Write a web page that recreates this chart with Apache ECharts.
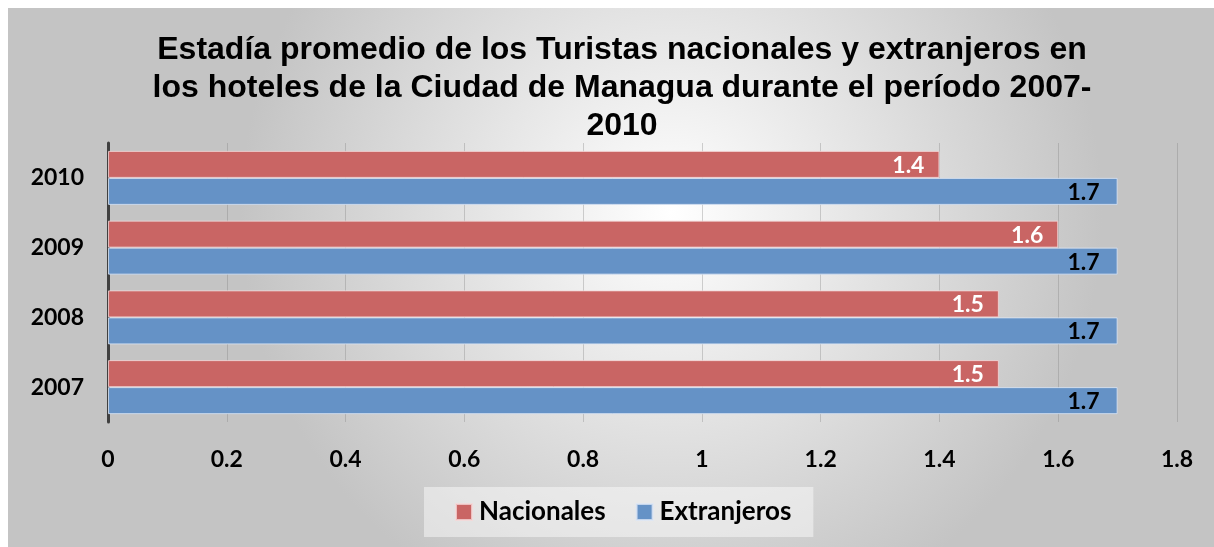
<!DOCTYPE html>
<html><head><meta charset="utf-8">
<script src="https://cdn.jsdelivr.net/npm/echarts@6/dist/echarts.min.js"></script>
<style>
html,body{margin:0;padding:0;background:#fff;}
#c{position:absolute;left:8px;top:8px;width:1206px;height:539px;}
</style></head><body>
<div id="c"></div>
<script>
const categories = ['2007','2008','2009','2010'];
const nacionales = [1.5, 1.5, 1.6, 1.4];
const extranjeros = [1.7, 1.7, 1.7, 1.7];
const xTicks = [0,0.2,0.4,0.6,0.8,1,1.2,1.4,1.6,1.8];
const titleText = 'Estadía promedio de los Turistas nacionales y extranjeros en\nlos hoteles de la Ciudad de Managua durante el período 2007-\n2010';

const chart = echarts.init(document.getElementById('c'));
const lbl = {fontFamily:'Lato', fontWeight:'bold', fontSize:23};
chart.setOption({
  backgroundColor:{type:'radial',x:0.55,y:0.38,r:0.8,colorStops:[{offset:0,color:'#ffffff'},{offset:1,color:'#c4c4c4'}]},
  animation:false,
  title:{text:titleText,left:609,textAlign:'center',top:18,
    textStyle:{fontFamily:'Liberation Sans',fontWeight:'bold',fontSize:32,lineHeight:38,color:'#000'}},
  grid:{left:100,right:37,top:135,bottom:125},
  legend:{data:['Nacionales','Extranjeros'],bottom:10,left:416,
    backgroundColor:'rgba(255,255,255,0.45)',padding:[12,22,12,31],itemGap:30,
    itemWidth:16,itemHeight:16,icon:'rect',
    textStyle:{color:'#000',fontFamily:'Lato',fontWeight:'bold',fontSize:26,padding:[0,0,0,2]}},
  xAxis:{type:'value',min:0,max:1.8,interval:0.2,
    axisLine:{show:false},axisTick:{show:false},
    splitLine:{show:true,lineStyle:{color:'rgba(130,130,130,0.35)',width:1}},
    axisLabel:Object.assign({color:'#000',margin:26,formatter:v=>{const t=xTicks.find(x=>Math.abs(x-v)<1e-9);return String(t!==undefined?t:v);}},lbl)},
  yAxis:{type:'category',data:categories,
    axisLine:{show:true,lineStyle:{color:'#404040',width:3}},axisTick:{show:false},
    axisLabel:Object.assign({color:'#000',margin:24},lbl)},
  series:[
    {name:'Nacionales',type:'bar',data:nacionales,barWidth:27,barGap:'0%',barCategoryGap:'25%',
      itemStyle:{color:'#c96564',borderColor:'rgba(245,215,215,0.8)',borderWidth:1},
      label:Object.assign({show:true,position:'insideRight',color:'#fff',offset:[-10,1]},lbl)},
    {name:'Extranjeros',type:'bar',data:extranjeros,barWidth:27,
      itemStyle:{color:'#6592c6',borderColor:'rgba(220,230,245,0.8)',borderWidth:1},
      label:Object.assign({show:true,position:'insideRight',color:'#000',offset:[-13,1]},lbl)}
  ]
});
</script></body></html>
